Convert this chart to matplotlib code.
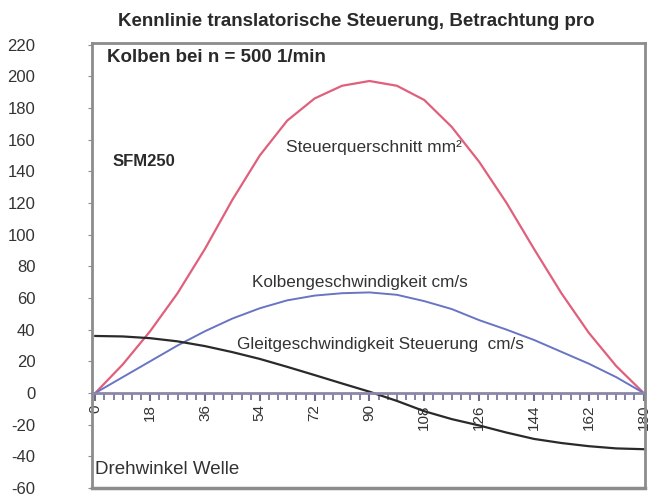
import matplotlib
matplotlib.use("Agg")
import matplotlib.pyplot as plt
from matplotlib.ticker import MultipleLocator

plt.rcParams['font.family'] = ['Liberation Sans', 'DejaVu Sans']

# Drehwinkel Welle (Grad)
winkel = [0, 9, 18, 27, 36, 45, 54, 63, 72, 81, 90, 99, 108, 117, 126, 135, 144, 153, 162, 171, 180]
# Steuerquerschnitt mm^2
querschnitt = [0, 18, 39, 63, 91, 122, 150, 172, 186, 194, 197, 194, 185, 168, 146, 120, 91, 63, 38, 17, 0]
# Kolbengeschwindigkeit cm/s
kolben_v = [0, 10, 20, 30, 39, 47, 53.5, 58.5, 61.5, 63, 63.5, 62, 58, 53, 46, 40, 33.5, 26, 18.5, 10, 0]
# Gleitgeschwindigkeit Steuerung cm/s
gleit_v = [36, 35.7, 34.6, 32.6, 29.6, 25.8, 21.5, 16.5, 11.3, 6, 0.8, -5, -11.5, -16.5, -20.5, -25, -29, -31.6, -33.6, -35, -35.5]

x_ticks = [0, 18, 36, 54, 72, 90, 108, 126, 144, 162, 180]
y_ticks = [-60, -40, -20, 0, 20, 40, 60, 80, 100, 120, 140, 160, 180, 200, 220]

fig = plt.figure(figsize=(6.59, 5), dpi=100)
ax = fig.add_axes([0.14, 0.024, 0.839, 0.89])

ax.plot(winkel, querschnitt, color="#e0607c", lw=1.6)
ax.plot(winkel, kolben_v, color="#6874c4", lw=1.4)
ax.plot(winkel, gleit_v, color="#2a2a2a", lw=1.6)

ax.set_xlim(-1, 180.5)
ax.set_ylim(-60, 221)

# x-Achse auf Nulllinie
ax.spines['bottom'].set_position(('data', 0))
ax.spines['bottom'].set_color("#8a88a8")
ax.spines['bottom'].set_linewidth(2)
for s in ['top', 'right', 'left']:
    ax.spines[s].set_color("#8c8c8c")
    ax.spines[s].set_linewidth(2)

# Rahmen unten
ax.plot([0, 1], [0, 0], transform=ax.transAxes, color="#8c8c8c", lw=2.5, clip_on=False)

ax.set_xticks(x_ticks)
ax.set_xticklabels([str(v) for v in x_ticks], rotation=90, fontsize=11, color="#333333")
ax.xaxis.set_minor_locator(MultipleLocator(3))
ax.tick_params(axis='x', which='major', direction='out', length=6, width=1.5,
               color="#6e6c8c", pad=2, bottom=True)
ax.tick_params(axis='x', which='minor', direction='out', length=5, width=1.3,
               color="#7c7a98", bottom=True)

ax.set_yticks(y_ticks)
ax.set_yticklabels([str(v) for v in y_ticks], fontsize=12, color="#333333")
ax.tick_params(axis='y', direction='out', length=3, color="#8c8c8c", pad=38)

fig.text(0.54, 0.958, "Kennlinie translatorische Steuerung, Betrachtung pro",
         ha='center', va='center', fontsize=13.5, fontweight='bold', color="#2a2a2a")
ax.text(4, 212, "Kolben bei n = 500 1/min", fontsize=13.5, fontweight='bold',
        color="#2a2a2a", va='center')
ax.text(5.5, 146, "SFM250", fontsize=12, fontweight='bold', color="#2a2a2a", va='center')
ax.text(62.5, 155, "Steuerquerschnitt mm²", fontsize=12.5, color="#333333", va='center')
ax.text(51.5, 70, "Kolbengeschwindigkeit cm/s", fontsize=12.3, color="#333333", va='center')
ax.text(46.5, 30.5, "Gleitgeschwindigkeit Steuerung  cm/s", fontsize=12.3, color="#333333", va='center')
ax.text(0, -48.5, "Drehwinkel Welle", fontsize=13.5, color="#333333", va='center')

fig.savefig("out.png", dpi=100)
